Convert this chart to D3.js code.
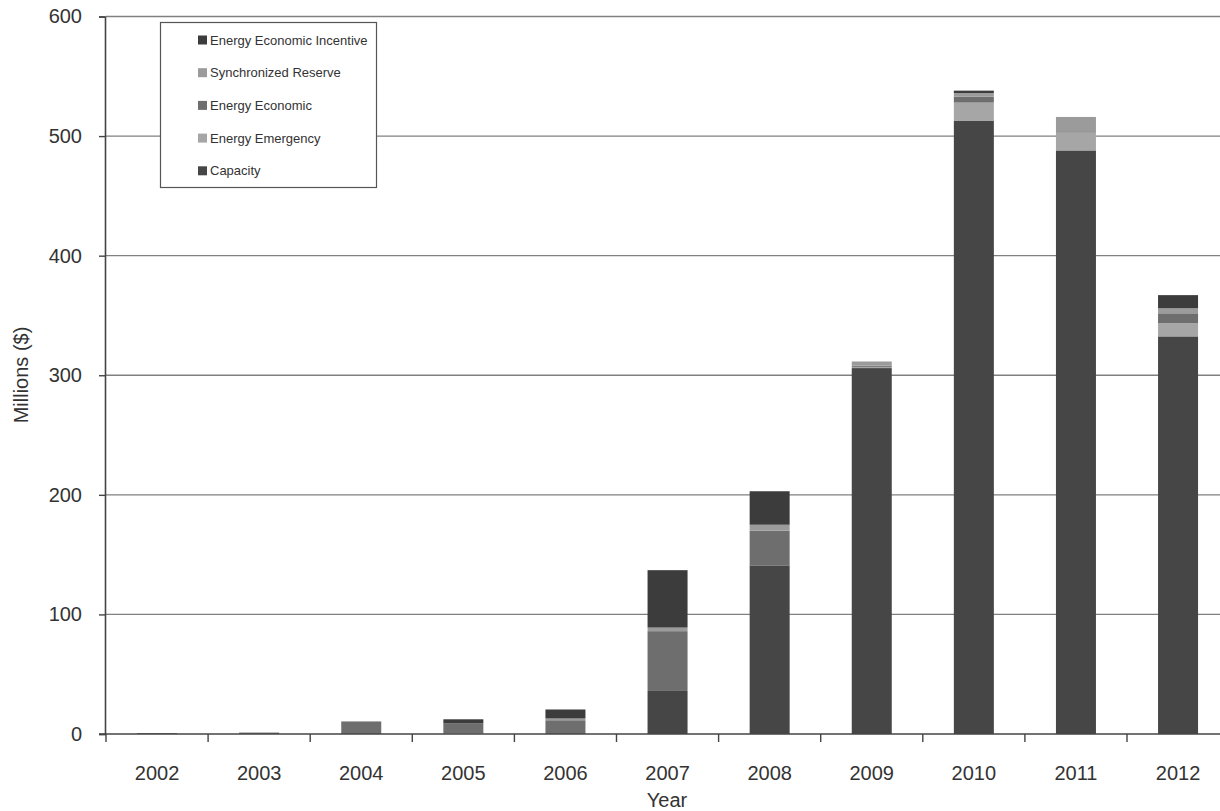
<!DOCTYPE html>
<html>
<head>
<meta charset="utf-8">
<script src="https://cdn.jsdelivr.net/npm/d3@7"></script>
<style>
  html, body { margin: 0; padding: 0; background: #fff; }
  svg { display: block; font-family: "Liberation Sans", Arial, sans-serif; }
</style>
</head>
<body>
<svg id="chart" width="1220" height="811"></svg>
<script>
// Demand response revenue by program, millions of dollars
const years = ["2002","2003","2004","2005","2006","2007","2008","2009","2010","2011","2012"];
const capacity          = [0,   0,   0,    0,   0,    36,  141, 306, 513, 488, 332.5];
const energyEmergency   = [0,   0,   0,    0.5, 0,    0,   0,   1,   15,  15,  11];
const energyEconomic    = [0.8, 1.2, 10.5, 8.3, 11.5, 50,  29,  1,   5,   1,   8.3];
const synchronizedRes   = [0,   0,   0,    0,   1.5,  3,   5,   3.5, 3,   12,  4.2];
const energyEconIncent  = [0,   0,   0,    3.5, 7.5,  48,  28,  0,   2,   0,   11];
const yTicks = [0, 100, 200, 300, 400, 500, 600];

// Stack order bottom to top; legend lists them top to bottom
const seriesNames = ["Capacity", "Energy Emergency", "Energy Economic", "Synchronized Reserve", "Energy Economic Incentive"];
const seriesValues = [capacity, energyEmergency, energyEconomic, synchronizedRes, energyEconIncent];
const seriesColors = ["#464646", "#a6a6a6", "#6e6e6e", "#9b9b9b", "#3c3c3c"];

const rows = years.map((y, i) => {
  const r = { year: y };
  seriesNames.forEach((n, k) => r[n] = seriesValues[k][i]);
  return r;
});

const svg = d3.select("#chart");
const x0 = 106, plotTop = 16.5, plotBottom = 734;

const x = d3.scaleBand().domain(years).range([x0, x0 + 11 * 102.1]).padding(0);
const y = d3.scaleLinear().domain([0, 600]).range([plotBottom, plotTop]);
const barW = 40;

// Horizontal gridlines
svg.append("g").selectAll("line").data(yTicks.filter(t => t > 0)).join("line")
  .attr("x1", x0).attr("x2", 1220)
  .attr("y1", d => y(d)).attr("y2", d => y(d))
  .attr("stroke", "#808080").attr("stroke-width", 1.3);

// Stacked bars
const stack = d3.stack().keys(seriesNames)(rows);
svg.append("g").selectAll("g").data(stack).join("g")
  .attr("fill", (d, i) => seriesColors[i])
  .selectAll("rect").data(d => d).join("rect")
  .attr("x", d => x(d.data.year) + x.bandwidth() / 2 - barW / 2)
  .attr("width", barW)
  .attr("y", d => y(d[1]))
  .attr("height", d => Math.max(0, y(d[0]) - y(d[1])));

// Y axis
const yAxis = svg.append("g").attr("transform", `translate(${x0 - 1},0)`)
  .call(d3.axisLeft(y).tickValues(yTicks).tickSize(6).tickPadding(17));
yAxis.select(".domain").attr("stroke", "#444").attr("stroke-width", 1.6);
yAxis.selectAll(".tick line").attr("stroke", "#444").attr("stroke-width", 1.4);
yAxis.selectAll(".tick text").attr("fill", "#333").attr("font-size", 20).attr("font-family", "Liberation Sans, Arial, sans-serif");

// X axis with ticks between categories
const xAxis = svg.append("g").attr("transform", `translate(0,${plotBottom})`);
xAxis.append("line").attr("x1", x0 - 7).attr("x2", 1220).attr("y1", 0).attr("y2", 0)
  .attr("stroke", "#444").attr("stroke-width", 1.6);
xAxis.selectAll("line.sep").data(years).join("line").attr("class", "sep")
  .attr("x1", d => x(d)).attr("x2", d => x(d)).attr("y1", 0).attr("y2", 8)
  .attr("stroke", "#444").attr("stroke-width", 1.4);
xAxis.selectAll("text").data(years).join("text")
  .attr("x", d => x(d) + x.bandwidth() / 2).attr("y", 46)
  .attr("text-anchor", "middle").attr("fill", "#333").attr("font-size", 20)
  .text(d => d);

// Axis titles
svg.append("text").attr("x", 667).attr("y", 807).attr("text-anchor", "middle")
  .attr("fill", "#333").attr("font-size", 20).text("Year");
svg.append("text").attr("transform", "translate(28,375) rotate(-90)").attr("text-anchor", "middle")
  .attr("fill", "#333").attr("font-size", 20).text("Millions ($)");

// Legend
const legend = svg.append("g");
legend.append("rect").attr("x", 160.5).attr("y", 22.5).attr("width", 216).attr("height", 165)
  .attr("fill", "#fff").attr("stroke", "#555").attr("stroke-width", 1.2);
const legendOrder = seriesNames.map((n, i) => ({ name: n, color: seriesColors[i] })).reverse();
const li = legend.selectAll("g.item").data(legendOrder).join("g").attr("class", "item")
  .attr("transform", (d, i) => `translate(198,${40 + i * 32.7})`);
li.append("rect").attr("x", 0).attr("y", -4.5).attr("width", 9).attr("height", 9).attr("fill", d => d.color);
li.append("text").attr("x", 12).attr("y", 4.5).attr("fill", "#333").attr("font-size", 13).text(d => d.name);
</script>
</body>
</html>
